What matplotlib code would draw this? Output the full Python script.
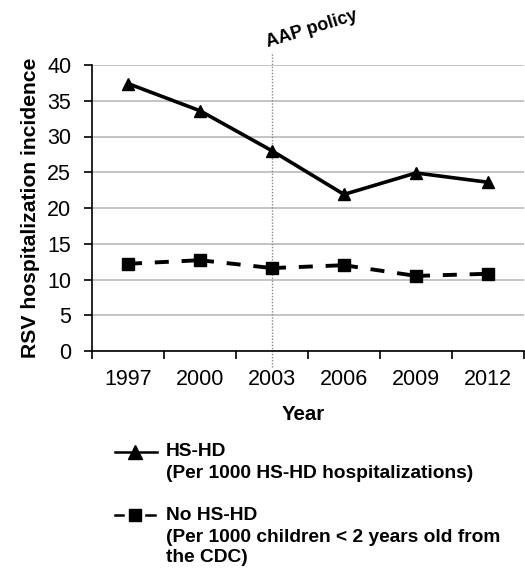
import matplotlib.pyplot as plt
from matplotlib.lines import Line2D

plt.rcParams['font.family'] = ['Liberation Sans', 'DejaVu Sans']

years = ['1997', '2000', '2003', '2006', '2009', '2012']
hs_hd = [37.4, 33.6, 28.0, 21.9, 24.9, 23.6]
no_hs_hd = [12.2, 12.7, 11.6, 12.0, 10.5, 10.8]
policy_year = '2003'

fig = plt.figure(figsize=(5.25, 5.71), dpi=100)
ax = fig.add_axes([92 / 525, 1 - 351 / 571, 432 / 525, 286 / 571])

x = list(range(len(years)))
ax.plot(x, hs_hd, color='black', lw=2.6, marker='^', ms=9, zorder=3)
# dashed series: dash pattern restarts on each segment, like the original
for i in range(len(x) - 1):
    ax.plot(x[i:i + 2], no_hs_hd[i:i + 2], color='black', lw=2.8,
            ls=(0, (3.6, 3.3)), solid_capstyle='butt', zorder=3)
ax.plot(x, no_hs_hd, color='black', ls='none', marker='s', ms=8, zorder=4)

ax.set_xlim(-0.5, len(years) - 0.5)
ax.set_ylim(0, 40)
ax.set_yticks(range(0, 41, 5))
ax.set_xticks(x)
ax.set_xticklabels(years)
ax.set_xticks([i - 0.5 for i in range(len(years) + 1)], minor=True)
ax.tick_params(axis='x', which='major', length=0, pad=13, labelsize=15.5)
ax.tick_params(axis='x', which='minor', length=6, width=1.2, direction='out')
ax.tick_params(axis='y', length=6, width=1.2, labelsize=15.5, pad=9)
ax.yaxis.grid(True, color='#b4b4b4', lw=1.1)
ax.set_axisbelow(True)
for s in ['top', 'right']:
    ax.spines[s].set_visible(False)
ax.spines['left'].set_linewidth(1.2)
ax.spines['bottom'].set_linewidth(1.2)

ax.set_ylabel('RSV hospitalization incidence', fontsize=15.2, fontweight='bold', labelpad=5)

# policy marker
px = years.index(policy_year)
ax.plot([px, px], [-2.3, 41.8], color='#888888', lw=1.0, ls=(0, (1, 1.2)), clip_on=False)
ax.text(px - 0.04, 42.0, 'AAP policy', rotation=17, fontsize=13, fontweight='bold',
        ha='left', va='bottom', rotation_mode='anchor')

fig.text(303 / 525, 1 - 415 / 571, 'Year', fontsize=14.7, fontweight='bold', ha='center', va='center')

# legend
def fy(py):
    return 1 - py / 571

fs = 13.8
fig.add_artist(Line2D([115 / 525, 157 / 525], [fy(452), fy(452)], color='black', lw=1.8))
fig.add_artist(Line2D([135 / 525], [fy(452)], color='black', marker='^', ms=10))
fig.text(166 / 525, fy(452), 'HS-HD', fontsize=fs, fontweight='bold', va='center')
fig.text(166 / 525, fy(474), '(Per 1000 HS-HD hospitalizations)', fontsize=fs, fontweight='bold', va='center')

fig.add_artist(Line2D([115 / 525, 123 / 525], [fy(515), fy(515)], color='black', lw=1.8))
fig.add_artist(Line2D([146 / 525, 155 / 525], [fy(515), fy(515)], color='black', lw=1.8))
fig.add_artist(Line2D([135 / 525], [fy(515)], color='black', marker='s', ms=9))
fig.text(166 / 525, fy(515), 'No HS-HD', fontsize=fs, fontweight='bold', va='center')
fig.text(166 / 525, fy(537), '(Per 1000 children < 2 years old from', fontsize=fs, fontweight='bold', va='center')
fig.text(166 / 525, fy(557), 'the CDC)', fontsize=fs, fontweight='bold', va='center')

fig.savefig('out.png', dpi=100)
